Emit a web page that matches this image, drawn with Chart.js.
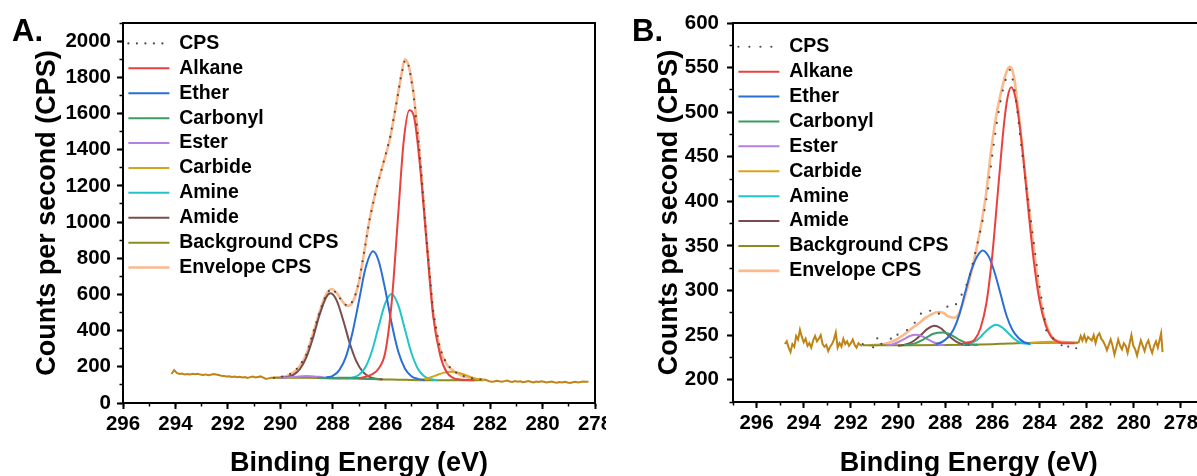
<!DOCTYPE html>
<html>
<head>
<meta charset="utf-8">
<script src="https://cdn.jsdelivr.net/npm/chart.js@4.4.1/dist/chart.umd.min.js"></script>
<style>
  html, body { margin: 0; padding: 0; background: #fff; }
  body { width: 1197px; height: 476px; overflow: hidden; position: relative; font-family: 'Liberation Sans', Arial, sans-serif; }
  .panel { position: absolute; top: 0; height: 476px; background: #fff; }
  #panelA { left: 0; width: 612px; }
  #panelB { left: 606px; width: 604px; }
  .tag { position: absolute; font-weight: bold; font-size: 31px; color: #000; line-height: 36px; }
</style>
</head>
<body>
<div class="panel" id="panelA"><canvas id="chartA" width="612" height="476"></canvas></div>
<div class="panel" id="panelB"><canvas id="chartB" width="604" height="476"></canvas></div>
<div class="tag" style="left:12px;top:13px">A.</div>
<div class="tag" style="left:632px;top:13px">B.</div>
<script>
// ---- axis ticks ----
const xTicks = [278, 280, 282, 284, 286, 288, 290, 292, 294, 296];
const yTicksA = [0, 200, 400, 600, 800, 1000, 1200, 1400, 1600, 1800, 2000];
const yTicksB = [200, 250, 300, 350, 400, 450, 500, 550, 600];

// ---- panel A (binding energy in eV, counts per second) ----
const cpsA_be = [290.25, 290.0, 289.75, 289.5, 289.25, 289.0, 288.75, 288.5, 288.25, 288.05, 287.85, 287.65, 287.45, 287.3, 287.15, 287.0, 286.84, 286.6, 286.33, 286.08, 285.82, 285.57, 285.4, 285.25, 285.1, 284.93, 284.68, 284.42, 284.17, 283.91, 283.66, 283.4, 283.1, 282.89, 282.6, 282.25];
const cpsA = [139, 143, 151, 170, 207, 270, 388, 503, 603, 633, 606, 562, 535, 548, 592, 668, 803, 1012, 1188, 1322, 1462, 1658, 1805, 1895, 1862, 1722, 1372, 898, 503, 298, 217, 176, 154, 141, 134, 129];

const alkaneA_be = [287.0, 286.75, 286.5, 286.25, 286.0, 285.75, 285.5, 285.3, 285.08, 284.9, 284.68, 284.42, 284.17, 283.91, 283.66, 283.4, 283.15, 282.9, 282.6];
const alkaneA = [138, 145, 159, 191, 279, 562, 1053, 1440, 1618, 1580, 1320, 885, 478, 267, 171, 138, 130, 127, 126];

const etherA_be = [288.25, 288.0, 287.75, 287.5, 287.25, 287.0, 286.75, 286.46, 286.25, 286.0, 285.75, 285.5, 285.25, 285.0, 284.75, 284.5];
const etherA = [141, 150, 182, 255, 388, 566, 746, 838, 785, 627, 437, 283, 191, 148, 133, 126];

const carbonylA_be = [288.6, 288.2, 287.8, 287.4, 287.0, 286.6, 286.2];
const carbonylA = [138, 138, 139, 139.5, 138, 134, 131];

const esterA_be = [290.0, 289.6, 289.3, 289.0, 288.7, 288.4, 288.1, 287.7];
const esterA = [140, 143, 147, 149, 147, 143, 139, 135];

const carbideA_be = [284.75, 284.5, 284.25, 284.0, 283.75, 283.5, 283.25, 283.0, 282.75, 282.5, 282.25];
const carbideA = [127, 132, 142, 156, 168, 173, 169, 158, 144, 133, 128];

const amineA_be = [287.5, 287.25, 287.0, 286.75, 286.5, 286.25, 286.0, 285.76, 285.5, 285.25, 285.0, 284.75, 284.5, 284.25, 284.0];
const amineA = [136, 140, 156, 199, 290, 424, 550, 602, 540, 408, 276, 188, 146, 131, 126];

const amideA_be = [290.0, 289.75, 289.5, 289.25, 289.0, 288.75, 288.5, 288.25, 288.08, 287.85, 287.6, 287.35, 287.1, 286.85, 286.6, 286.35, 286.1];
const amideA = [141, 144, 156, 188, 255, 362, 489, 585, 606, 566, 456, 329, 230, 172, 145, 134, 130];

const backgroundA_be = [290.25, 289.5, 289.0, 288.5, 288.0, 287.5, 287.0, 286.5, 286.0, 285.5, 285.0, 284.5, 283.5, 282.25];
const backgroundA = [140, 139, 139, 138, 136, 135, 134, 132, 130, 129, 127, 126, 126, 126];

const envelopeA_be = cpsA_be;
const envelopeA = [140, 142, 150, 168, 205, 272, 385, 505, 600, 630, 608, 565, 537, 545, 590, 670, 800, 1010, 1190, 1320, 1460, 1660, 1800, 1900, 1860, 1720, 1370, 900, 500, 300, 215, 178, 152, 142, 133, 130];

const rawLeftA_be = [294.15, 294.05, 293.95, 293.85, 293.75, 293.65, 293.55, 293.45, 293.35, 293.25, 293.15, 293.05, 292.95, 292.85, 292.75, 292.65, 292.55, 292.45, 292.35, 292.25, 292.15, 292.05, 291.95, 291.85, 291.75, 291.65, 291.55, 291.45, 291.35, 291.25, 291.15, 291.05, 290.95, 290.85, 290.75, 290.65, 290.55, 290.45, 290.35, 290.25];
const rawLeftA = [160, 182, 166, 160, 163, 158, 160, 157, 161, 159, 162, 157, 155, 158, 154, 156, 160, 158, 155, 151, 149, 146, 148, 144, 146, 142, 145, 141, 144, 139, 143, 146, 141, 144, 147, 140, 133, 136, 139, 140];
const rawRightA_be = [282.25, 282.15, 282.05, 281.95, 281.85, 281.75, 281.65, 281.55, 281.45, 281.35, 281.25, 281.15, 281.05, 280.95, 280.85, 280.75, 280.65, 280.55, 280.45, 280.35, 280.25, 280.15, 280.05, 279.95, 279.85, 279.75, 279.65, 279.55, 279.45, 279.35, 279.25, 279.15, 279.05, 278.95, 278.85, 278.75, 278.65, 278.55, 278.45, 278.35, 278.25];
const rawRightA = [130, 127, 121, 117, 119, 123, 120, 118, 121, 124, 119, 116, 121, 117, 120, 115, 118, 121, 117, 114, 119, 116, 120, 117, 113, 116, 119, 115, 112, 116, 114, 117, 113, 111, 115, 117, 114, 116, 119, 117, 118];

// ---- panel B ----
const cpsB_be = [291.5, 291.3, 291.0, 290.85, 290.7, 290.5, 290.3, 290.15, 290.0, 289.8, 289.6, 289.4, 289.2, 289.0, 288.75, 288.55, 288.35, 288.15, 287.95, 287.8, 287.6, 287.4, 287.2, 287.0, 286.8, 286.6, 286.4, 286.2, 286.0, 285.8, 285.6, 285.4, 285.25, 285.1, 284.95, 284.8, 284.6, 284.4, 284.2, 284.0, 283.85, 283.7, 283.5, 283.3, 283.1, 282.9, 282.7, 282.5, 282.35];
const cpsB = [240, 238, 236, 249, 240, 243, 246, 253, 250, 253, 256, 259, 268, 275, 279, 276, 272, 277, 281, 284, 282, 291, 300, 312, 334, 356, 380, 410, 452, 490, 520, 540, 548, 533, 505, 468, 425, 385, 345, 305, 280, 253, 248, 244, 240, 233, 240, 238, 231];

const alkaneB_be = [287.25, 287.0, 286.75, 286.5, 286.25, 286.0, 285.75, 285.5, 285.35, 285.2, 285.0, 284.75, 284.5, 284.25, 284.0, 283.75, 283.5, 283.25, 283.0, 282.5];
const alkaneB = [241, 242, 245, 258, 286, 340, 415, 488, 517, 528, 514, 465, 398, 335, 289, 262, 248, 243, 241, 241];

const etherB_be = [288.4, 288.15, 287.9, 287.65, 287.4, 287.15, 286.9, 286.65, 286.41, 286.15, 285.9, 285.65, 285.4, 285.15, 284.9, 284.65, 284.4];
const etherB = [240, 242, 247, 256, 273, 298, 322, 338, 345, 338, 320, 296, 272, 256, 247, 242, 240.5];

const carbonylB_be = [289.75, 289.5, 289.25, 289.0, 288.75, 288.5, 288.11, 287.85, 287.6, 287.35, 287.1, 286.85, 286.6];
const carbonylB = [238.5, 239.5, 241, 244, 248, 251.5, 253, 251.5, 248, 244, 241, 239.5, 239];

const esterB_be = [290.5, 290.25, 290.0, 289.75, 289.5, 289.24, 289.0, 288.75, 288.5, 288.25, 288.0];
const esterB = [238.5, 239.5, 242, 245.5, 249, 250.5, 249, 245.5, 242, 239.5, 238.5];

const carbideB_be = [284.5, 284.0, 283.5, 283.0, 282.5];
const carbideB = [241.3, 242, 242.5, 242, 241.5];

const amineB_be = [287.25, 287.0, 286.75, 286.5, 286.25, 286.0, 285.87, 285.6, 285.35, 285.1, 284.85, 284.6, 284.35];
const amineB = [240, 241, 243, 248, 255, 260, 261.5, 259, 253, 246.5, 242, 240.5, 240];

const amideB_be = [290.0, 289.75, 289.5, 289.25, 289.0, 288.75, 288.46, 288.2, 287.95, 287.7, 287.45, 287.2, 286.95];
const amideB = [238, 239, 241, 245, 251, 257, 260.5, 258, 252, 246, 241.5, 239.5, 239];

const backgroundB_be = [291.5, 290.0, 288.0, 287.0, 286.0, 285.5, 285.0, 284.5, 283.5, 282.35];
const backgroundB = [238.5, 238.6, 238.8, 239.1, 239.8, 240.4, 241.0, 241.3, 241.5, 241.5];

const envelopeB_be = [291.2, 290.8, 290.5, 290.23, 290.0, 289.67, 289.4, 289.1, 288.85, 288.6, 288.4, 288.25, 288.05, 287.9, 287.75, 287.61, 287.4, 287.11, 286.9, 286.76, 286.48, 286.26, 286.05, 285.84, 285.56, 285.4, 285.27, 285.15, 285.06, 284.85, 284.64, 284.42, 284.21, 284.0, 283.79, 283.5, 283.2, 282.86, 282.37];
const envelopeB = [238.5, 239.3, 240.5, 243, 246, 252, 258, 263.5, 269, 273, 275.5, 276, 274.5, 271.5, 270, 269.5, 275, 298, 320, 336, 373, 409, 457, 495, 530, 545, 551, 547, 536, 491, 438, 388, 340, 297, 269, 249, 243, 242, 241.2];

const rawLeftB_be = [294.8, 294.72, 294.64, 294.56, 294.48, 294.4, 294.32, 294.24, 294.16, 294.08, 294.0, 293.92, 293.84, 293.76, 293.68, 293.6, 293.52, 293.44, 293.36, 293.28, 293.2, 293.12, 293.04, 292.96, 292.88, 292.8, 292.72, 292.64, 292.56, 292.48, 292.4, 292.32, 292.24, 292.16, 292.08, 292.0, 291.92, 291.84, 291.76, 291.68, 291.6, 291.52];
const rawLeftB = [240, 243, 236, 231, 240, 237, 249, 245, 256, 248, 242, 246, 238, 241, 236, 244, 249, 243, 246, 250, 240, 237, 239, 232, 237, 240, 245, 253, 236, 241, 237, 246, 240, 243, 238, 241, 245, 239, 236, 241, 239, 238];
const rawRightB_be = [282.35, 282.25, 282.18, 282.1, 282.02, 281.94, 281.86, 281.78, 281.7, 281.62, 281.54, 281.46, 281.38, 281.3, 281.22, 281.14, 281.06, 280.98, 280.9, 280.82, 280.74, 280.66, 280.58, 280.5, 280.42, 280.34, 280.26, 280.18, 280.1, 280.02, 279.94, 279.86, 279.78, 279.7, 279.62, 279.54, 279.46, 279.38, 279.3, 279.22, 279.14, 279.06, 278.98, 278.9, 278.84, 278.78];
const rawRightB = [241, 249, 244, 250, 243, 248, 246, 244, 250, 241, 249, 252, 246, 243, 239, 233, 239, 245, 238, 228, 236, 245, 238, 234, 241, 238, 230, 240, 250, 238, 234, 227, 236, 244, 238, 232, 240, 244, 236, 230, 238, 243, 236, 245, 252, 231];

const COLORS = {
  cps: '#4a4a4a', alkane: '#e8413e', ether: '#2a6ed6', carbonyl: '#3d9c62', ester: '#b47fe2',
  carbide: '#d6a418', amine: '#22c4c8', amide: '#7b4c4c', background: '#8c8c1c',
  envelope: '#fbb98c', raw: '#c08416'
};
const FONT = "'Liberation Sans', Arial, Helvetica, sans-serif";
Chart.defaults.font.family = FONT;
Chart.defaults.color = '#000';

const pts = (be, cps) => be.map((x, i) => ({ x: x, y: cps[i] }));

function curve(label, be, cps, color, width) {
  return {
    label: label, data: pts(be, cps), borderColor: color, backgroundColor: color,
    borderWidth: width || 2, pointRadius: 0, fill: false, cubicInterpolationMode: 'monotone'
  };
}
function dotted(be, cps, gap) {
  return {
    label: 'CPS', data: pts(be, cps), borderColor: COLORS.cps, backgroundColor: COLORS.cps,
    borderWidth: 2.2, borderDash: [0, gap], borderCapStyle: 'round', pointRadius: 0, fill: false, tension: 0
  };
}
function noisy(be, cps) {
  return { label: '', data: pts(be, cps), borderColor: COLORS.raw, borderWidth: 2, pointRadius: 0, fill: false, tension: 0 };
}

// keep the scale boxes at fixed sizes so the plot frame lands where it should
function fixSize(size) {
  return s => {
    if (s.isHorizontal()) s.height = size; else s.width = size;
    s.paddingLeft = s.paddingRight = s.paddingTop = s.paddingBottom = 0;
  };
}

function legendLabels(chart) {
  return Chart.defaults.plugins.legend.labels.generateLabels(chart)
    .filter(item => item.text)
    .map(item => {
      const ds = chart.data.datasets[item.datasetIndex];
      return Object.assign(item, {
        lineWidth: ds.borderWidth, lineDash: ds.borderDash || [],
        lineCap: ds.borderCapStyle || 'butt', strokeStyle: ds.borderColor
      });
    });
}

function renderPanel(canvasId, p) {
  const tickFont = { family: FONT, size: 20.5, weight: 'bold', lineHeight: 1 };
  const titleFont = { family: FONT, size: 27, weight: 'bold', lineHeight: 1 };
  const frame = { color: '#000', width: 2 };
  return new Chart(document.getElementById(canvasId), {
    type: 'line',
    data: { datasets: p.datasets },
    options: {
      responsive: false,
      animation: false,
      events: [],
      layout: { padding: { left: 0, top: p.top, right: p.right, bottom: 0 } },
      scales: {
        x: {
          type: 'linear', position: 'bottom', weight: 1, reverse: true, min: p.xMin, max: p.xMax,
          afterBuildTicks: s => { s.ticks = xTicks.map(v => ({ value: v })); },
          afterFit: fixSize(p.xAxisHeight),
          ticks: { font: tickFont, color: '#000', padding: 5, maxRotation: 0, autoSkip: false, callback: v => String(v) },
          grid: { drawOnChartArea: false, tickLength: 6, tickWidth: 2, tickColor: '#000' },
          border: frame,
          title: { display: true, text: 'Binding Energy (eV)', color: '#000', font: titleFont, padding: { top: 0, bottom: -1 } }
        },
        xMinor: {
          type: 'linear', position: 'bottom', weight: 0, reverse: true, min: p.xMin, max: p.xMax,
          afterFit: fixSize(0),
          ticks: { display: false, stepSize: 1 },
          grid: { drawOnChartArea: false, tickLength: 3.5, tickWidth: 1.5, tickColor: '#000' },
          border: { display: false }
        },
        xTop: {
          type: 'linear', position: 'top', min: p.xMin, max: p.xMax,
          afterFit: fixSize(0),
          ticks: { display: false },
          grid: { drawOnChartArea: false, drawTicks: false },
          border: frame
        },
        y: {
          type: 'linear', position: 'left', weight: 1, min: p.yMin, max: p.yMax,
          afterBuildTicks: s => { s.ticks = p.yTicks.map(v => ({ value: v })); },
          afterFit: fixSize(p.yAxisWidth),
          ticks: { font: tickFont, color: '#000', padding: p.yTickPad, callback: v => String(v) },
          grid: { drawOnChartArea: false, tickLength: 6, tickWidth: 2, tickColor: '#000' },
          border: frame,
          title: { display: true, text: 'Counts per second (CPS)', color: '#000', font: titleFont, padding: { top: p.yTitlePad, bottom: 0 } }
        },
        yMinor: {
          type: 'linear', position: 'left', weight: 0, min: p.yMin, max: p.yMax,
          afterFit: fixSize(0),
          ticks: { display: false, stepSize: p.yMinorStep },
          grid: { drawOnChartArea: false, tickLength: 3.5, tickWidth: 1.5, tickColor: '#000' },
          border: { display: false }
        },
        yRight: {
          type: 'linear', position: 'right', min: p.yMin, max: p.yMax,
          afterFit: fixSize(0),
          ticks: { display: false },
          grid: { drawOnChartArea: false, drawTicks: false },
          border: frame
        }
      },
      plugins: {
        tooltip: { enabled: false },
        legend: {
          position: 'chartArea', align: 'start',
          // an empty legend title pushes the entries down inside the frame
          title: { display: true, text: '', font: { size: 1, lineHeight: 1 }, padding: { top: 0, bottom: p.legendDrop } },
          labels: {
            usePointStyle: true, pointStyle: 'line', pointStyleWidth: 41, padding: 5.4, color: '#000',
            font: { family: FONT, size: 19.5, weight: 'bold', lineHeight: 1 },
            generateLabels: legendLabels
          }
        }
      }
    }
  });
}

const chartA = renderPanel('chartA', {
  xMin: 278, xMax: 296, yMin: 0, yMax: 2100, yTicks: yTicksA, yMinorStep: 100,
  top: 23, right: 17, xAxisHeight: 73, yAxisWidth: 123, yTickPad: 6, yTitlePad: 34, legendDrop: 27.3,
  datasets: [
    dotted(cpsA_be, cpsA, 8.5),
    curve('Alkane', alkaneA_be, alkaneA, COLORS.alkane),
    curve('Ether', etherA_be, etherA, COLORS.ether),
    curve('Carbonyl', carbonylA_be, carbonylA, COLORS.carbonyl),
    curve('Ester', esterA_be, esterA, COLORS.ester),
    curve('Carbide', carbideA_be, carbideA, COLORS.carbide),
    curve('Amine', amineA_be, amineA, COLORS.amine),
    curve('Amide', amideA_be, amideA, COLORS.amide),
    curve('Background CPS', backgroundA_be, backgroundA, COLORS.background),
    curve('Envelope CPS', envelopeA_be, envelopeA, COLORS.envelope, 2.6),
    noisy(rawLeftA_be, rawLeftA),
    noisy(rawRightA_be, rawRightA)
  ]
});

const chartB = renderPanel('chartB', {
  xMin: 277, xMax: 297, yMin: 175, yMax: 600, yTicks: yTicksB, yMinorStep: 25,
  top: 23, right: 5.5, xAxisHeight: 74, yAxisWidth: 127, yTickPad: 8, yTitlePad: 50, legendDrop: 30.6,
  datasets: [
    dotted(cpsB_be, cpsB, 11),
    curve('Alkane', alkaneB_be, alkaneB, COLORS.alkane),
    curve('Ether', etherB_be, etherB, COLORS.ether),
    curve('Carbonyl', carbonylB_be, carbonylB, COLORS.carbonyl),
    curve('Ester', esterB_be, esterB, COLORS.ester),
    curve('Carbide', carbideB_be, carbideB, COLORS.carbide),
    curve('Amine', amineB_be, amineB, COLORS.amine),
    curve('Amide', amideB_be, amideB, COLORS.amide),
    curve('Background CPS', backgroundB_be, backgroundB, COLORS.background),
    curve('Envelope CPS', envelopeB_be, envelopeB, COLORS.envelope, 2.6),
    noisy(rawLeftB_be, rawLeftB),
    noisy(rawRightB_be, rawRightB)
  ]
});
</script>
</body>
</html>
